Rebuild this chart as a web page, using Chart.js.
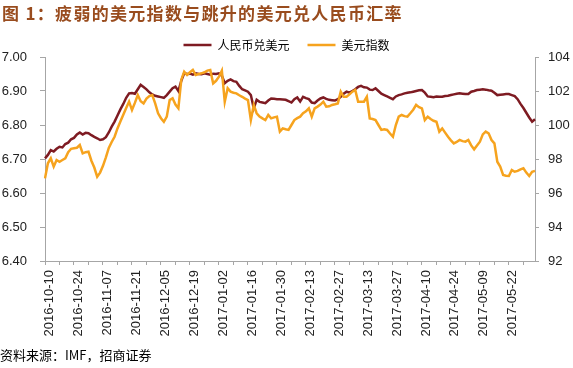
<!DOCTYPE html>
<html><head><meta charset="utf-8">
<script src="https://cdn.jsdelivr.net/npm/chart.js@4.4.0/dist/chart.umd.min.js"></script>
<style>
html,body{margin:0;padding:0;background:#fff;}
#wrap{position:relative;width:573px;height:368px;overflow:hidden;background:#fff;}
#c{position:absolute;left:0;top:0;}
#title{position:absolute;left:2px;top:0px;font-family:"Noto Sans CJK SC";font-weight:bold;font-size:17px;line-height:26px;color:#994c1e;letter-spacing:1.3px;white-space:nowrap;}
#source{position:absolute;left:0px;top:345px;font-family:"Noto Sans CJK SC";font-size:13px;line-height:20px;color:#000;white-space:nowrap;}
</style></head><body>
<div id="wrap">
<canvas id="c" width="573" height="368"></canvas>
<div id="title">图 1：疲弱的美元指数与跳升的美元兑人民币汇率</div>
<div id="source">资料来源：IMF，招商证券</div>
</div>
<script>
const dates = [
"2016-10-10","2016-10-11","2016-10-12","2016-10-13","2016-10-14","2016-10-17","2016-10-18","2016-10-19","2016-10-20","2016-10-21",
"2016-10-24","2016-10-25","2016-10-26","2016-10-27","2016-10-28","2016-10-31","2016-11-01","2016-11-02","2016-11-03","2016-11-04",
"2016-11-07","2016-11-08","2016-11-09","2016-11-10","2016-11-11","2016-11-14","2016-11-15","2016-11-16","2016-11-17","2016-11-18",
"2016-11-21","2016-11-22","2016-11-23","2016-11-24","2016-11-25","2016-11-28","2016-11-29","2016-11-30","2016-12-01","2016-12-02",
"2016-12-05","2016-12-06","2016-12-07","2016-12-08","2016-12-09","2016-12-12","2016-12-13","2016-12-14","2016-12-15","2016-12-16",
"2016-12-19","2016-12-20","2016-12-21","2016-12-22","2016-12-23","2016-12-26","2016-12-27","2016-12-28","2016-12-29","2016-12-30",
"2017-01-02","2017-01-03","2017-01-04","2017-01-05","2017-01-06","2017-01-09","2017-01-10","2017-01-11","2017-01-12","2017-01-13",
"2017-01-16","2017-01-17","2017-01-18","2017-01-19","2017-01-20","2017-01-23","2017-01-24","2017-01-25","2017-01-26","2017-01-27",
"2017-01-30","2017-01-31","2017-02-01","2017-02-02","2017-02-03","2017-02-06","2017-02-07","2017-02-08","2017-02-09","2017-02-10",
"2017-02-13","2017-02-14","2017-02-15","2017-02-16","2017-02-17","2017-02-20","2017-02-21","2017-02-22","2017-02-23","2017-02-24",
"2017-02-27","2017-02-28","2017-03-01","2017-03-02","2017-03-03","2017-03-06","2017-03-07","2017-03-08","2017-03-09","2017-03-10",
"2017-03-13","2017-03-14","2017-03-15","2017-03-16","2017-03-17","2017-03-20","2017-03-21","2017-03-22","2017-03-23","2017-03-24",
"2017-03-27","2017-03-28","2017-03-29","2017-03-30","2017-03-31","2017-04-03","2017-04-04","2017-04-05","2017-04-06","2017-04-07",
"2017-04-10","2017-04-11","2017-04-12","2017-04-13","2017-04-14","2017-04-17","2017-04-18","2017-04-19","2017-04-20","2017-04-21",
"2017-04-24","2017-04-25","2017-04-26","2017-04-27","2017-04-28","2017-05-02","2017-05-03","2017-05-04","2017-05-05","2017-05-08",
"2017-05-09","2017-05-10","2017-05-11","2017-05-12","2017-05-13","2017-05-15","2017-05-16","2017-05-17","2017-05-18","2017-05-19",
"2017-05-22","2017-05-23","2017-05-24","2017-05-25","2017-05-26","2017-05-29","2017-05-30","2017-05-31","2017-06-01","2017-06-02"
];

const tickLabels = ["2016-10-10","2016-10-24","2016-11-07","2016-11-21","2016-12-05","2016-12-19","2017-01-02","2017-01-16","2017-01-30","2017-02-13","2017-02-27","2017-03-13","2017-03-27","2017-04-10","2017-04-24","2017-05-09","2017-05-22"];

const usdCny = [
6.702,6.712,6.726,6.722,6.730,6.736,6.734,6.744,6.748,6.758,
6.762,6.772,6.778,6.772,6.777,6.776,6.770,6.765,6.761,6.756,
6.758,6.764,6.778,6.795,6.810,6.828,6.846,6.862,6.880,6.893,
6.894,6.892,6.905,6.918,6.912,6.905,6.896,6.890,6.886,6.884,
6.882,6.880,6.888,6.898,6.908,6.913,6.900,6.930,6.952,6.950,
6.951,6.948,6.952,6.950,6.949,6.952,6.950,6.948,6.951,6.950,
6.952,6.945,6.923,6.930,6.934,6.929,6.927,6.915,6.905,6.902,
6.898,6.888,6.849,6.874,6.868,6.866,6.864,6.872,6.878,6.877,
6.876,6.876,6.875,6.874,6.870,6.866,6.876,6.881,6.869,6.883,
6.879,6.876,6.866,6.864,6.872,6.878,6.881,6.877,6.874,6.873,
6.872,6.876,6.883,6.892,6.898,6.895,6.900,6.905,6.912,6.915,
6.911,6.910,6.904,6.903,6.908,6.900,6.892,6.888,6.884,6.880,
6.876,6.884,6.888,6.890,6.893,6.895,6.896,6.898,6.900,6.902,
6.903,6.895,6.884,6.883,6.882,6.884,6.883,6.883,6.885,6.886,
6.888,6.890,6.892,6.893,6.892,6.891,6.891,6.898,6.900,6.903,
6.904,6.905,6.904,6.902,6.901,6.895,6.888,6.889,6.890,6.891,
6.891,6.888,6.885,6.876,6.862,6.850,6.836,6.822,6.810,6.817
];

const usdIndex = [
96.86,97.75,98.04,97.55,97.94,97.84,97.94,98.04,98.40,98.60,
98.63,98.66,98.82,98.33,98.40,98.43,97.90,97.50,96.96,97.20,
97.60,98.10,98.65,99.00,99.31,99.80,100.20,100.60,101.00,101.37,
100.88,101.30,101.76,101.40,101.27,101.55,101.70,101.76,101.27,100.69,
100.40,100.19,100.49,101.47,101.57,101.20,100.98,102.65,103.14,102.94,
103.10,103.24,102.94,103.00,103.04,103.10,103.20,103.24,102.45,102.60,
102.84,103.20,101.37,102.16,101.96,101.90,101.86,101.75,101.66,101.55,
101.47,100.29,101.18,100.69,100.50,100.39,100.29,100.59,100.39,100.45,
100.49,99.61,99.80,99.75,99.71,100.00,100.29,100.40,100.49,100.69,
100.80,100.98,100.49,100.98,101.08,101.20,101.37,101.08,101.10,101.18,
101.22,101.27,101.96,101.66,101.66,101.80,101.96,102.06,101.37,101.37,
101.37,101.66,100.39,100.35,100.29,100.00,99.71,99.75,99.71,99.50,
99.31,100.00,100.49,100.59,100.52,100.49,100.69,100.90,101.18,101.05,
100.98,100.29,100.49,100.35,100.25,100.19,99.61,99.80,99.55,99.31,
99.10,98.92,99.00,99.12,99.05,99.02,99.12,98.80,98.57,98.80,
99.02,99.45,99.61,99.51,99.12,98.92,97.84,97.55,97.06,97.02,
97.00,97.35,97.25,97.30,97.39,97.45,97.20,97.00,97.25,97.30
];

const seriesNames = ["人民币兑美元", "美元指数"];
const leftTicks = [6.40, 6.50, 6.60, 6.70, 6.80, 6.90, 7.00];
const rightTicks = [92, 94, 96, 98, 100, 102, 104];

const AXIS = '#a6a6a6';
const TXT = '#222';
const FONT = 'Liberation Sans, Arial, sans-serif';

const legendFix = {
  id: 'legendFix',
  beforeLayout(chart) {
    const lg = chart.legend;
    if (lg && !lg.__fixed) {
      lg.__fixed = true;
      const orig = lg.fit;
      lg.fit = function () { orig.call(this); this.height = 36; };
    }
  }
};

new Chart(document.getElementById('c'), {
  type: 'line',
  data: {
    labels: dates,
    datasets: [
      { label: seriesNames[0], data: usdCny, yAxisID: 'y', borderColor: '#7e1b22', backgroundColor: '#7e1b22', borderWidth: 2.5, pointRadius: 0, tension: 0, order: 1 },
      { label: seriesNames[1], data: usdIndex, yAxisID: 'y1', borderColor: '#f6a31e', backgroundColor: '#f6a31e', borderWidth: 2.5, pointRadius: 0, tension: 0, order: 0 }
    ]
  },
  options: {
    responsive: false,
    animation: false,
    devicePixelRatio: 1,
    layout: { padding: { top: 21, bottom: 32, left: 0, right: 0 } },
    plugins: {
      title: { display: false },
      tooltip: { enabled: false },
      legend: {
        display: true,
        position: 'top',
        align: 'center',
        labels: {
          usePointStyle: true,
          pointStyle: 'line',
          pointStyleWidth: 28,
          padding: 18,
          color: '#000',
          font: { family: 'Noto Sans CJK SC', size: 12 },
          sort: (a, b) => a.datasetIndex - b.datasetIndex
        }
      }
    },
    scales: {
      x: {
        type: 'category',
        offset: false,
        afterFit(s) { s.height = 75; },
        border: { display: true, color: AXIS, width: 1 },
        grid: {
          drawOnChartArea: false, drawTicks: true, tickLength: 4,
          color: ctx => (ctx.index % 5 === 0 ? AXIS : 'rgba(0,0,0,0)'),
          tickColor: ctx => (ctx.index % 5 === 0 ? AXIS : 'rgba(0,0,0,0)')
        },
        ticks: {
          autoSkip: false, maxRotation: 90, minRotation: 90, padding: 5, labelOffset: 4,
          color: TXT, font: { family: FONT, size: 13 },
          callback: (v, i) => (tickLabels.includes(dates[i]) ? dates[i] : '')
        }
      },
      y: {
        position: 'left',
        min: leftTicks[0], max: leftTicks[leftTicks.length - 1],
        afterFit(s) { s.width = 45; },
        afterBuildTicks(s) { s.ticks = leftTicks.map(v => ({ value: v })); },
        border: { display: true, color: AXIS, width: 1 },
        grid: { drawOnChartArea: false, drawTicks: true, tickLength: 5, color: AXIS },
        ticks: { padding: 13, color: TXT, font: { family: FONT, size: 13 }, callback: v => Number(v).toFixed(2) }
      },
      y1: {
        position: 'right',
        min: rightTicks[0], max: rightTicks[rightTicks.length - 1],
        afterFit(s) { s.width = 38; },
        afterBuildTicks(s) { s.ticks = rightTicks.map(v => ({ value: v })); },
        border: { display: true, color: AXIS, width: 1 },
        grid: { drawOnChartArea: false, drawTicks: true, tickLength: 4, color: AXIS },
        ticks: { padding: 9, color: TXT, font: { family: FONT, size: 13 }, callback: v => String(v) }
      }
    }
  },
  plugins: [legendFix]
});
</script>
</body></html>
